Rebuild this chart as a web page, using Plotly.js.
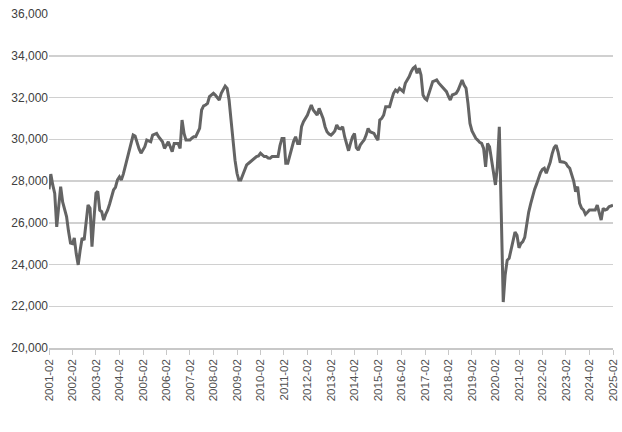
<!DOCTYPE html>
<html>
<head>
<meta charset="utf-8">
<script src="https://cdn.plot.ly/plotly-3.0.1.min.js"></script>
<style>
html,body{margin:0;padding:0;background:#fff;}
#chart{width:622px;height:432px;}
</style>
</head>
<body>
<div id="chart"></div>
<script>
// Monthly values, starting 2001-02
const startYear = 2001;
const startMonth = 2;
const values = [
  27600, 28330, 27800, 27400, 25800, 26800, 27730, 27000, 26600, 26300, 25600,
  25030, 25000, 25270, 24500, 23980, 24700, 25270, 25170, 25900, 26850, 26700, 24850,
  26200, 27420, 27500, 26600, 26530, 26130, 26400, 26600, 26900, 27180, 27570, 27700,
  28050, 28200, 28050, 28330, 28700, 29000, 29480, 29800, 30200, 30150, 29800, 29550,
  29330, 29500, 29640, 29960, 29900, 29880, 30200, 30250, 30280, 30120, 30000, 29880,
  29560, 29700, 29880, 29640, 29410, 29800, 29800, 29800, 29560, 30920, 30280, 29960,
  29960, 29960, 30050, 30120, 30120, 30360, 30520, 31400, 31600, 31640, 31720, 32040,
  32100, 32200, 32120, 32000, 31880, 32200, 32400, 32550, 32440, 31880, 30900, 29900,
  29000, 28370, 28050, 28050, 28300, 28530, 28770, 28850, 28930, 29000, 29090, 29170,
  29200, 29330, 29250, 29170, 29170, 29100, 29090, 29170, 29170, 29170, 29170, 29700,
  30040, 30040, 28850, 28850, 29200, 29640, 29900, 30120, 29800, 29800, 30600, 30840,
  31000, 31160, 31400, 31640, 31400, 31250, 31160, 31480, 31200, 31000, 30600, 30360,
  30250, 30200, 30280, 30400, 30680, 30520, 30500, 30600, 30120, 29800, 29450, 29800,
  30120, 30280, 29600, 29480, 29720, 29850, 29960, 30200, 30520, 30360, 30300, 30280,
  30100, 29960, 30920, 31000, 31160, 31560, 31560, 31560, 31900, 32200, 32360, 32280,
  32440, 32360, 32280, 32680, 32840, 33000, 33240, 33400, 33480, 33160, 33400, 33080,
  32120, 31950, 31880, 32200, 32500, 32760, 32800, 32840, 32700, 32600, 32520, 32400,
  32280, 32050, 31880, 32120, 32150, 32200, 32360, 32600, 32840, 32600, 32440, 31720,
  30760, 30400, 30200, 30050, 29960, 29850, 29800, 29560, 28680, 29800, 29640, 28990,
  28370, 27810, 28680, 30600, 26500, 22200, 23500, 24200, 24300, 24700, 25200, 25550,
  25400, 24800, 25000, 25100, 25300, 25970, 26500, 26900, 27300, 27600, 27850, 28150,
  28400, 28560, 28610, 28370, 28600, 28900, 29300, 29600, 29720, 29400, 28930, 28930,
  28900, 28850, 28700, 28610, 28300, 28000, 27490, 27730, 26930, 26700, 26610, 26400,
  26500, 26610, 26610, 26600, 26610, 26850, 26530, 26130, 26690, 26610, 26650, 26770,
  26800, 26850
];
const yTicks = [20000, 22000, 24000, 26000, 28000, 30000, 32000, 34000, 36000];
const yTickLabels = ['20,000', '22,000', '24,000', '26,000', '28,000', '30,000', '32,000', '34,000', '36,000'];

const dates = values.map(function (v, i) {
  const total = (startMonth - 1) + i;
  const y = startYear + Math.floor(total / 12);
  const m = (total % 12) + 1;
  return y + '-' + (m < 10 ? '0' + m : m) + '-01';
});

const trace = {
  x: dates,
  y: values,
  type: 'scatter',
  mode: 'lines',
  line: {color: '#646464', width: 3},
  hoverinfo: 'x+y'
};

const layout = {
  width: 622,
  height: 432,
  margin: {l: 49, r: 9, t: 14, b: 84, pad: 0},
  paper_bgcolor: '#ffffff',
  plot_bgcolor: '#ffffff',
  showlegend: false,
  font: {family: 'Liberation Sans, Arial, sans-serif', color: '#404040'},
  xaxis: {
    type: 'date',
    range: ['2001-02-01', '2025-02-01'],
    tick0: '2001-02-01',
    dtick: 'M12',
    tickformat: '%Y-%m',
    tickangle: -90,
    ticks: 'outside',
    ticklen: 5,
    tickcolor: '#c8c8c8',
    tickwidth: 1,
    showgrid: false,
    showline: true,
    linecolor: '#c8c8c8',
    linewidth: 1.5,
    zeroline: false,
    tickfont: {size: 11.5, color: '#505050', family: 'Liberation Sans, Arial, sans-serif'}
  },
  yaxis: {
    range: [20000, 36000],
    tickmode: 'array',
    tickvals: yTicks,
    ticktext: yTickLabels,
    showgrid: true,
    gridcolor: '#d0d0d0',
    gridwidth: 1.5,
    zeroline: false,
    showline: false,
    ticks: '',
    tickfont: {size: 12, color: '#404040', family: 'Liberation Sans, Arial, sans-serif'}
  }
};

Plotly.newPlot('chart', [trace], layout, {displayModeBar: false, staticPlot: true});
</script>
</body>
</html>
